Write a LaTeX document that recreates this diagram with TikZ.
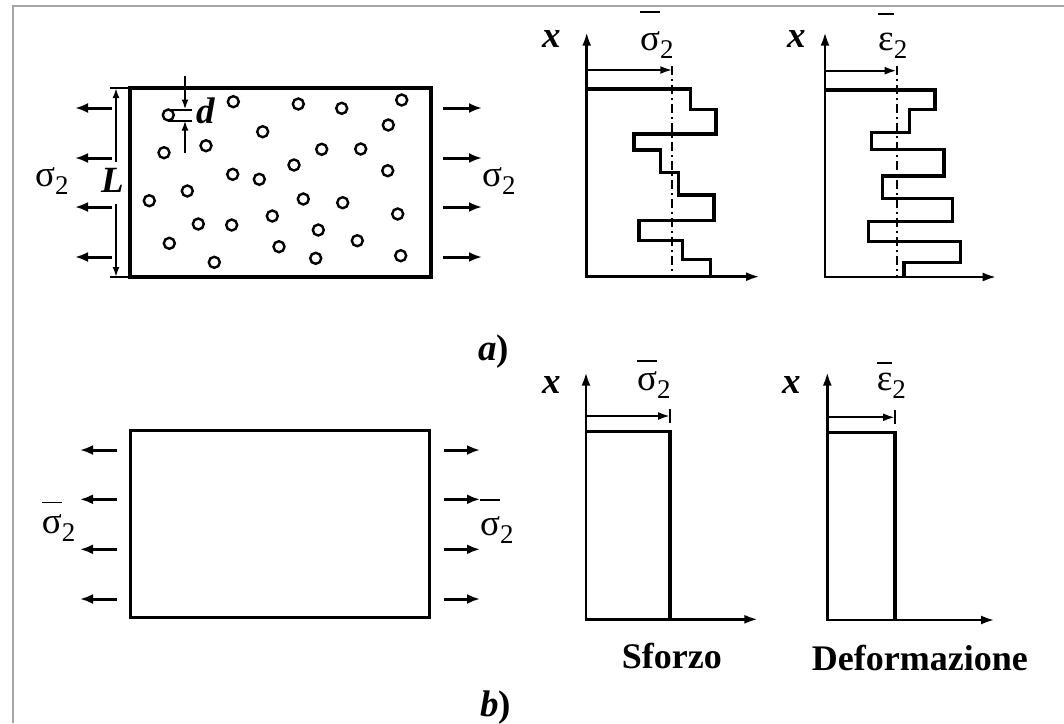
\documentclass[tikz,border=0pt]{standalone}
\usepackage{fontspec}
\setmainfont{Liberation Serif}
\usetikzlibrary{arrows.meta}
\newcommand\bigfont{\fontsize{37}{40}\selectfont}
\newcommand\subtwo{\lower8pt\hbox{\fontsize{27}{28}\selectfont 2}}
\newcommand\barred[2]{\vbox{\hrule height 1.8pt\kern#1\hbox{#2}}}

\begin{document}
\begin{tikzpicture}[x=1pt, y=-1pt, line join=miter,
    frame/.style={draw=black!35, line width=1.8pt},
    plate/.style={draw, line width=3.2pt},
    pull/.style={-{Latex[length=13pt,width=10pt]}, line width=3pt},
    axis/.style={{Latex[length=14pt,width=9pt]}-{Latex[length=14pt,width=9pt]}, line width=2.8pt},
    profile/.style={line width=3.3pt},
    mean/.style={line width=1.8pt, dash pattern=on 9pt off 4pt on 2pt off 4pt},
    meanarrow/.style={-{Latex[length=12pt,width=8pt]}, line width=2.2pt},
    hole/.style={draw, line width=2.4pt},
    dimline/.style={-{Latex[length=10pt,width=7pt]}, line width=2.2pt},
    lbl/.style={inner sep=0pt, anchor=base west, font=\bigfont},
    caption/.style={inner sep=0pt, anchor=base west, font=\bigfont\bfseries}]
  \useasboundingbox (0,0) rectangle (1064,723);
  \draw[frame] (13,723) -- (13,6) -- (1064,6);

  % a) plate with holes
  \draw[plate] (130,88) rectangle (431,277);
  \foreach \cx/\cy in {233.3/101.7, 298.3/104, 341.7/108.3, 401.7/100, 262.7/131.7,
      388.3/125, 164/152.7, 206/145.7, 321.7/149.3, 360.7/149, 294/165, 387.7/170.7,
      232.7/174.3, 259.3/179.3, 187.3/191, 149.3/200.7, 303.3/199, 342.7/202.7,
      397.7/214, 272.3/216, 198.3/224, 231.7/225, 318.3/230, 357.3/240.7,
      169.3/243.3, 279/246.7, 315.7/258.3, 400.7/255.7, 214.3/262.3}
    \draw[hole] (\cx,\cy) circle[radius=5.5pt];
  \draw[hole] (168.3,115) circle[radius=5.5pt];
  \foreach \y in {108,158,207,257} {
    \draw[pull] (112,\y) -- (75,\y);
    \draw[pull] (443,\y) -- (482,\y);
  }
  \draw[line width=2pt] (168.3,109.5) -- (192,109.5) (168.3,120.5) -- (192,120.5);
  \draw[dimline] (185,76) -- (185,109.5);
  \draw[dimline] (185,153) -- (185,120.5);
  \draw[line width=2pt] (110,88) -- (130,88) (110,277) -- (130,277);
  \draw[dimline] (116,162) -- (116,88);
  \draw[dimline] (116,204) -- (116,277);
  \node[lbl] (sigL) at (35,186) {σ\subtwo};
  \node[lbl] (sigR) at (482,186) {σ\subtwo};
  \node[lbl, font=\bigfont\bfseries\itshape] (lenL) at (101,192) {L};
  \node[lbl, font=\bigfont\bfseries\itshape] (diam) at (196,123) {d};

  % a) stress profile
  \draw[axis] (586.7,31.7) -- (586.7,276.7) -- (760,276.7);
  \draw[mean] (672.3,66) -- (672.3,276.7);
  \draw[meanarrow] (586.7,70) -- (672.3,70);
  \draw[profile] (586.7,89) -| (690.7,109.3) -| (716,134) -| (634,150) -| (660.7,172.7)
    -| (678.3,195) -| (714,220.7) -| (639,240.7) -| (682.7,259.3) -| (710.7,276.7);
  \node[lbl, font=\bigfont\bfseries\itshape] (xa1) at (542,47) {x};
  \node[lbl] (sbar1) at (640,50) {\barred{18pt}{σ}\subtwo};

  % a) strain profile
  \draw[axis] (825,31.7) -- (825,277) -- (996.7,277);
  \draw[mean] (896.7,66) -- (896.7,277);
  \draw[meanarrow] (825,70.7) -- (896.7,70.7);
  \draw[profile] (825,90) -| (935,109.3) -| (909.3,132.7) -| (871.7,149.3) -| (944,176)
    -| (882.7,198.3) -| (952.7,221.7) -| (868.3,241.7) -| (960.7,262.7) -| (904,277);
  \node[lbl, font=\bigfont\bfseries\itshape] (xa2) at (787,47) {x};
  \node[lbl] (ebar1) at (878,50) {\barred{18pt}{ε}\subtwo};

  \node[lbl, font=\bigfont\bfseries] (capa) at (478,360) {\textit{a})};

  % b) homogeneous plate
  \draw[plate] (130.7,430.7) rectangle (429.3,617.3);
  \foreach \y in {450,499.3,549.3,599} {
    \draw[pull] (116.7,\y) -- (80,\y);
    \draw[pull] (444,\y) -- (480,\y);
  }
  \node[lbl] (sbarL) at (41.7,533.3) {\barred{11pt}{σ}\subtwo};
  \node[lbl] (sbarR) at (480,535) {\barred{15pt}{σ}\subtwo};

  % b) stress
  \draw[axis] (586,371.7) -- (586,619.3) -- (758.3,619.3);
  \draw[profile] (586,431.7) -| (670,619.3);
  \draw[meanarrow] (586,416) -- (670,416);
  \draw[line width=2.2pt] (670,409) -- (670,423);
  \node[lbl, font=\bigfont\bfseries\itshape] (xb1) at (542,393) {x};
  \node[lbl] (sbar2) at (637,390) {\barred{9pt}{σ}\subtwo};

  % b) strain
  \draw[axis] (827.3,371.7) -- (827.3,620) -- (995,620);
  \draw[profile] (827.3,432.7) -| (895,620);
  \draw[meanarrow] (827.3,417.3) -- (895,417.3);
  \draw[line width=2.2pt] (895,410) -- (895,424);
  \node[lbl, font=\bigfont\bfseries\itshape] (xb2) at (782,393) {x};
  \node[lbl] (ebar2) at (876.7,390) {\barred{9pt}{ε}\subtwo};

  \node[caption, font=\fontsize{36}{40}\selectfont\bfseries] (sforzo) at (621.7,668.3) {Sforzo};
  \node[caption, font=\fontsize{36}{40}\selectfont\bfseries] (deform) at (811.7,670) {Deformazione};
  \node[lbl, font=\bigfont\bfseries] (capb) at (480,716) {\textit{b})};
\end{tikzpicture}
\end{document}
